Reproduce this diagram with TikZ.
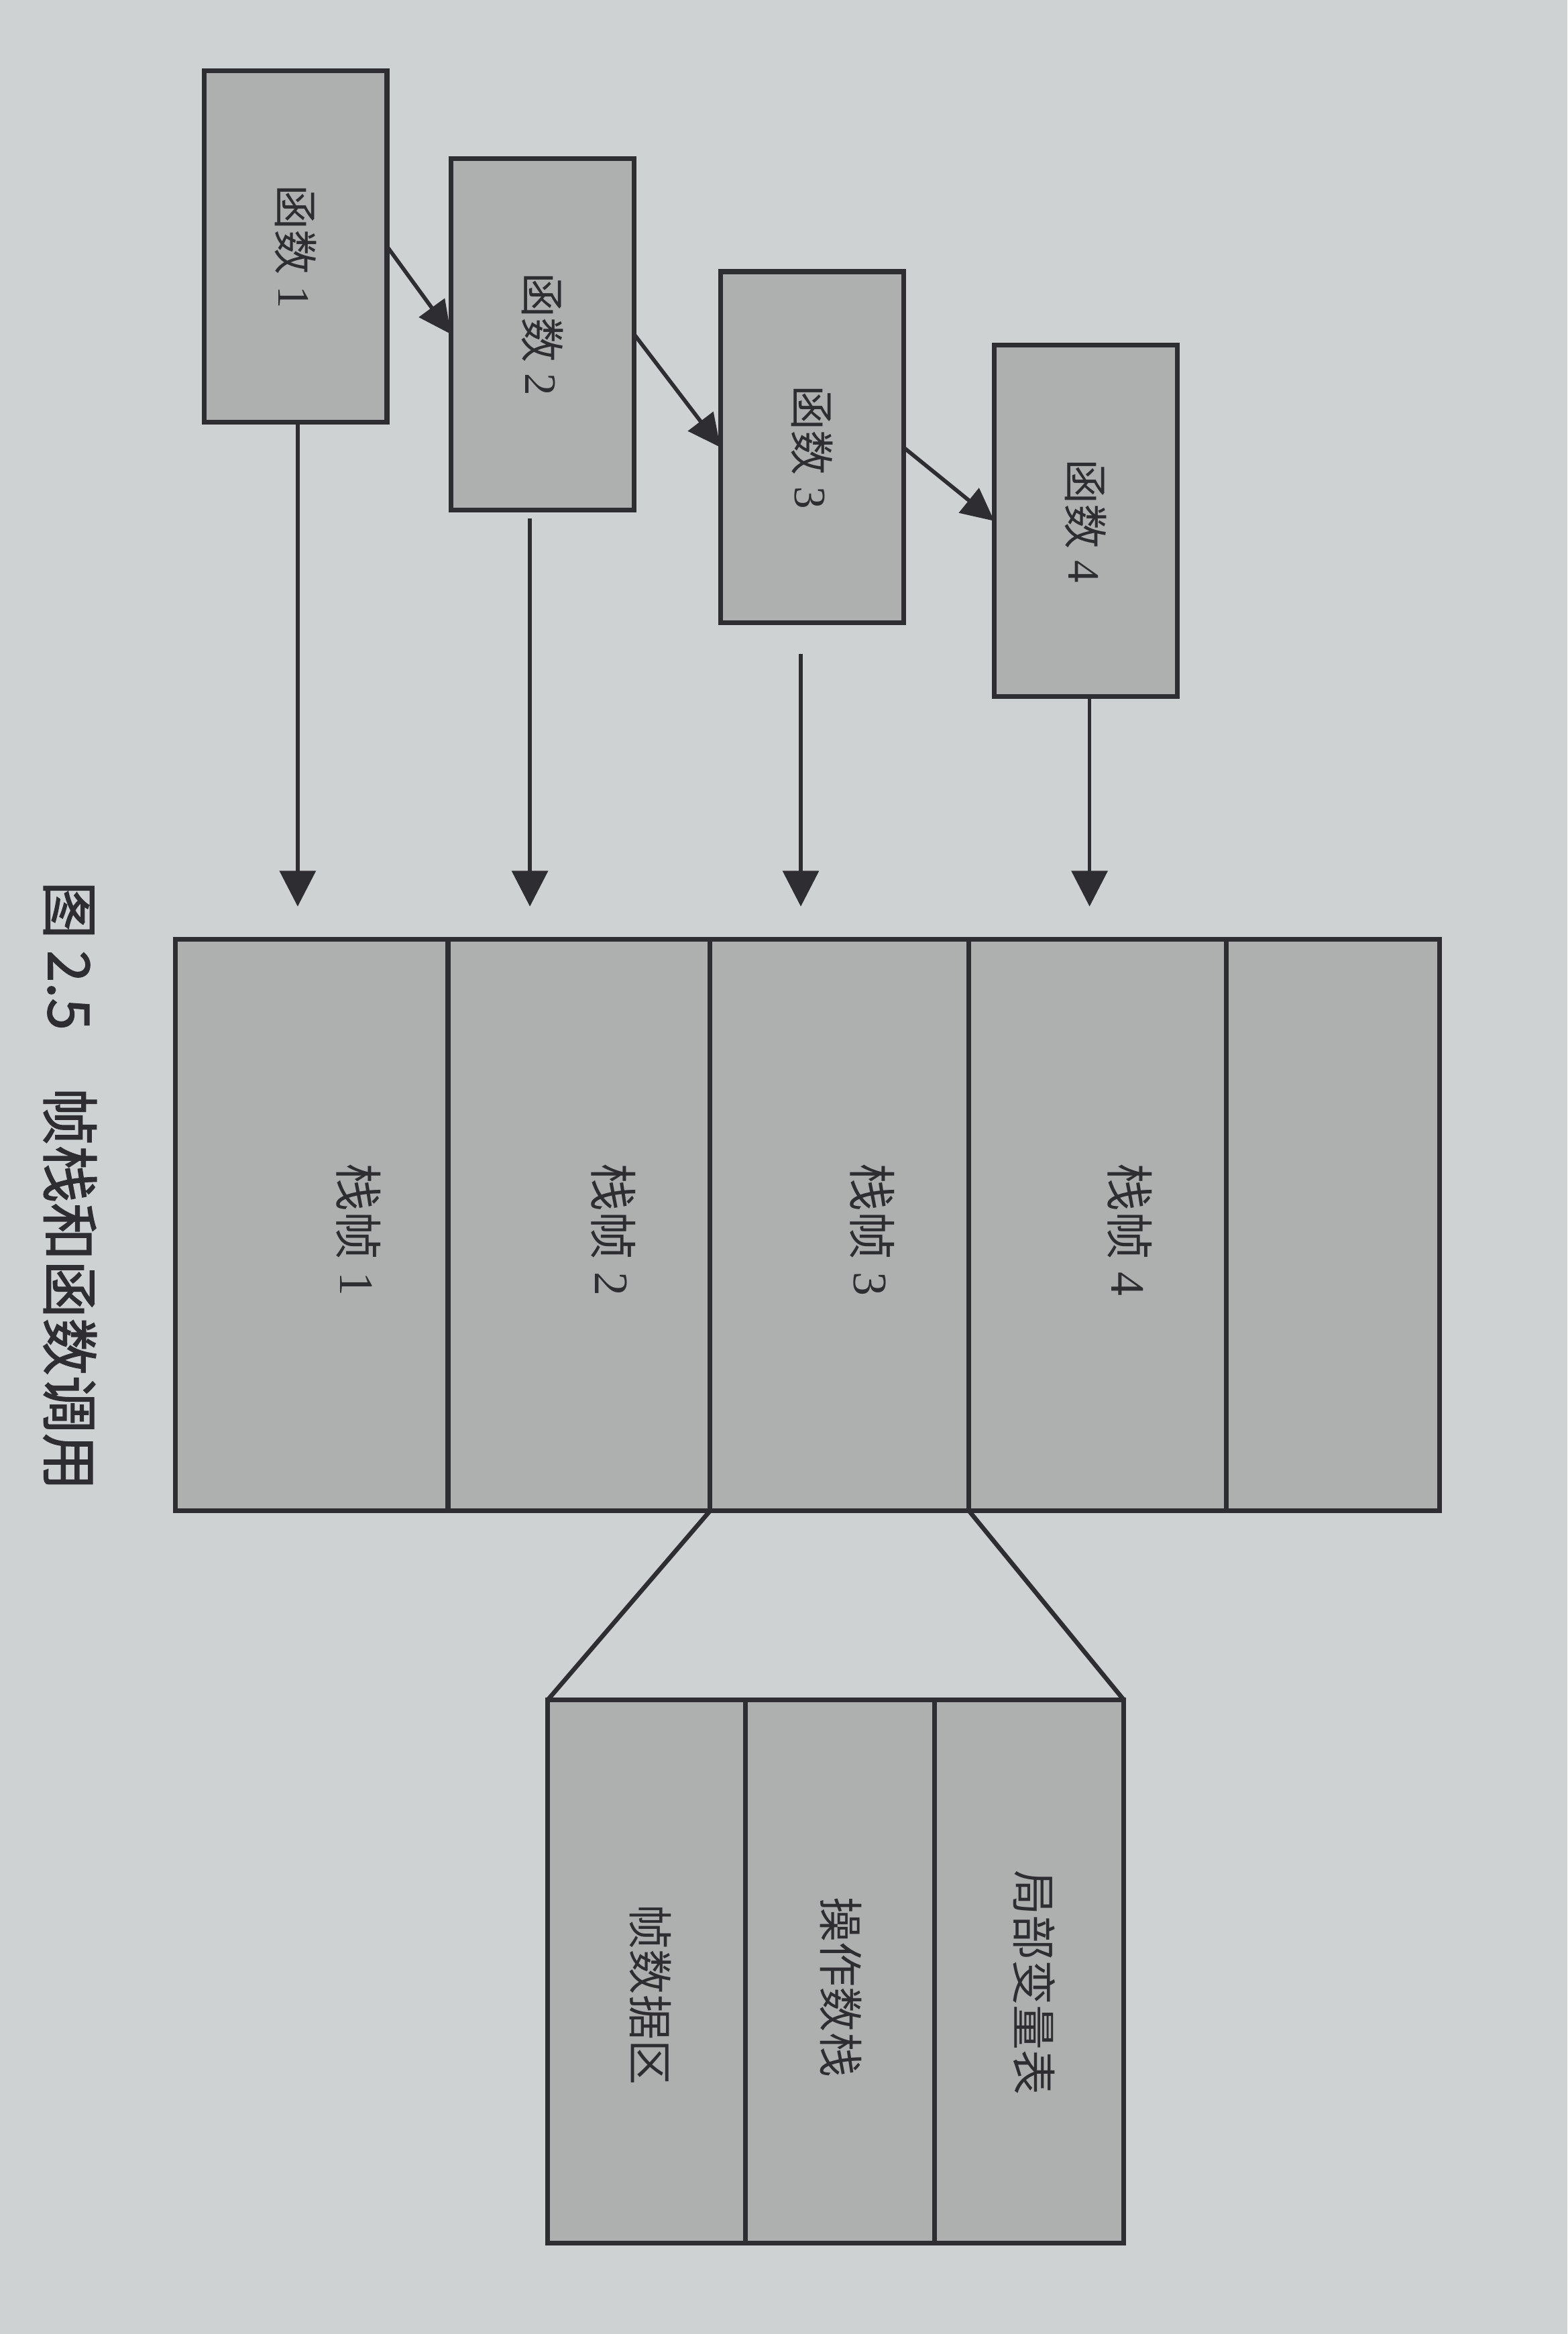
\documentclass[tikz,border=0pt]{standalone}
\usepackage{fontspec}
\setmainfont{Liberation Serif}
\newfontfamily\cjk{Noto Sans CJK SC}
\newfontfamily\cjkb[FakeBold=1.5]{Noto Sans CJK SC}
\usetikzlibrary{arrows.meta}
\definecolor{paper}{RGB}{206,210,211}
\definecolor{boxfill}{RGB}{174,176,175}
\definecolor{ink}{RGB}{46,46,50}
\begin{document}
\begin{tikzpicture}[x=1mm,y=-1mm,
  fbox/.style={draw=ink,fill=boxfill,line width=3.2mm,minimum width=123mm,minimum height=236mm,inner sep=0pt,outer sep=0pt},
  cell/.style={draw=ink,fill=boxfill,line width=3.2mm,inner sep=0pt,outer sep=0pt},
  flbl/.style={rotate=-90,text=ink,inner sep=0pt,font=\fontsize{86pt}{94pt}\selectfont},
  slbl/.style={rotate=-90,text=ink,inner sep=0pt,font=\fontsize{92pt}{100pt}\selectfont},
  dlbl/.style={rotate=-90,text=ink,inner sep=0pt,font=\fontsize{86pt}{94pt}\selectfont},
  conn/.style={draw=ink,line width=3mm},
  arr/.style={draw=ink,line width=2.6mm,-{Triangle[length=24mm,width=24mm]}},
  darr/.style={draw=ink,line width=2.6mm,-{Triangle[length=22mm,width=21mm]}}
]
% background / bounding box
\fill[paper] (0,0) rectangle (1053,1568);
\useasboundingbox (0,0) rectangle (1053,1568);

% function boxes
\node[fbox] (f1) at (198.5,165.5) {};
\node[fbox] (f2) at (364.5,224.5) {};
\node[fbox] (f3) at (545.5,300.5) {};
\node[fbox] (f4) at (729.5,350) {};
\node[flbl] (f1t) at (f1) {{\cjk 函数} 1};
\node[flbl] (f2t) at (f2) {{\cjk 函数} 2};
\node[flbl] (f3t) at (f3) {{\cjk 函数} 3};
\node[flbl] (f4t) at (f4) {{\cjk 函数} 4};

% call arrows
\draw[darr] (f1.east) -- (f2.west);
\draw[darr] (f2.east) -- (f3.west);
\draw[darr] (f3.east) -- (f4.west);

% stack frames
\node[cell,minimum width=183mm,minimum height=384mm] (c1) at (209.5,823) {};
\node[cell,minimum width=176mm,minimum height=384mm] (c2) at (389,823) {};
\node[cell,minimum width=174mm,minimum height=384mm] (c3) at (564,823) {};
\node[cell,minimum width=173mm,minimum height=384mm] (c4) at (737.5,823) {};
\node[cell,minimum width=143mm,minimum height=384mm] (c5) at (895.5,823) {};
\node[slbl] (c1t) at (241,826) {{\cjk 栈帧} 1};
\node[slbl] (c2t) at (412,826) {{\cjk 栈帧} 2};
\node[slbl] (c3t) at (586,826) {{\cjk 栈帧} 3};
\node[slbl] (c4t) at (759,826) {{\cjk 栈帧} 4};

% arrows from functions to frames
\coordinate (x1) at (200,0);
\coordinate (x2) at (356,0);
\coordinate (x3) at (538,0);
\coordinate (x4) at (732,0);
\draw[arr,shorten >=22mm] (f1.south -| x1) -- (c1.north -| x1);
\draw[arr,shorten <=6mm,shorten >=22mm] (f2.south -| x2) -- (c2.north -| x2);
\draw[arr,shorten <=21mm,shorten >=22mm] (f3.south -| x3) -- (c3.north -| x3);
\draw[arr,shorten >=22mm] (f4.south -| x4) -- (c4.north -| x4);

% detail of frame 3
\node[cell,minimum width=133mm,minimum height=365mm] (d1) at (434.5,1324.5) {};
\node[cell,minimum width=127mm,minimum height=365mm] (d2) at (564.5,1324.5) {};
\node[cell,minimum width=127mm,minimum height=365mm] (d3) at (691.5,1324.5) {};
\node[dlbl] (d1t) at (437,1340) {\cjk 帧数据区};
\node[dlbl] (d2t) at (565,1335) {\cjk 操作数栈};
\node[dlbl] (d3t) at (695,1332) {\cjk 局部变量表};
\draw[conn] (c3.south west) -- (d1.north west);
\draw[conn] (c3.south east) -- (d3.north east);

% caption
\node[rotate=-90,anchor=west,text=ink,inner sep=0pt,font=\fontsize{110pt}{116pt}\selectfont] (cap) at (47,592)
  {\cjkb 图\hspace{0.2em}2.5\hspace{1em}帧栈和函数调用};
\end{tikzpicture}
\end{document}
